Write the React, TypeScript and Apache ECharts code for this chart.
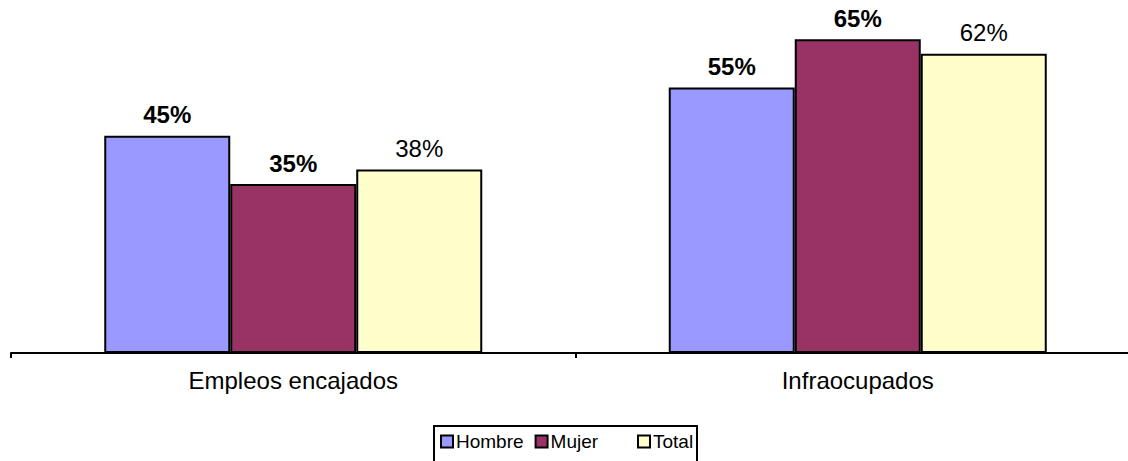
import React, { useEffect, useRef } from "react";
import * as echarts from "echarts";

const categories = ["Empleos encajados", "Infraocupados"];
const hombre = [45, 55];
const mujer = [35, 65];
const total = [38, 62];
const seriesNames = ["Hombre", "Mujer", "Total"];

const FONT = "'Liberation Sans', Arial, sans-serif";

export default function App() {
  const ref = useRef<HTMLDivElement>(null);
  useEffect(() => {
    document.body.style.margin = "0";
    document.body.style.overflow = "hidden";
    const chart = echarts.init(ref.current!, null, { renderer: "svg" });
    const barBase = {
      type: "bar" as const,
      barWidth: 126,
      barGap: "0%",
    };
    const lbl = (bold: boolean) => ({
      show: true,
      position: "top" as const,
      distance: 9,
      formatter: "{c}%",
      color: "#000",
      fontSize: 24,
      fontFamily: FONT,
      fontWeight: bold ? ("bold" as const) : ("normal" as const),
    });
    const legendCommon = {
      top: 432,
      padding: 0,
      icon: "rect",
      itemWidth: 12,
      itemHeight: 12,
      itemGap: 11,
      itemStyle: { borderColor: "#000", borderWidth: 2 },
      textStyle: { color: "#000", fontSize: 19, fontFamily: FONT, padding: [0, 0, 0, -2] },
    };
    chart.setOption({
      animation: false,
      backgroundColor: "#fff",
      grid: { left: 11, top: 15, right: 0, height: 338 },
      xAxis: {
        type: "category",
        data: categories,
        axisLine: { lineStyle: { color: "#000", width: 2 } },
        axisTick: { show: true, length: 5, lineStyle: { color: "#000", width: 2 } },
        axisLabel: { color: "#000", fontSize: 24, fontFamily: FONT, margin: 15 },
      },
      yAxis: { type: "value", min: 0, max: 70, show: false },
      legend: [
        {
          ...legendCommon,
          left: 440,
          data: seriesNames.slice(0, 2),
          textStyle: { ...legendCommon.textStyle, width: 74 },
        },
        {
          ...legendCommon,
          left: 637,
          data: seriesNames.slice(2),
        },
      ],
      graphic: [
        {
          type: "rect",
          shape: { x: 434, y: 426, width: 263, height: 40 },
          style: { fill: "none", stroke: "#000", lineWidth: 2 },
          silent: true,
        },
      ],
      series: [
        { ...barBase, name: seriesNames[0], data: hombre, itemStyle: { color: "#9999FF", borderColor: "#000", borderWidth: 2 }, label: lbl(true) },
        { ...barBase, name: seriesNames[1], data: mujer, itemStyle: { color: "#993366", borderColor: "#000", borderWidth: 2 }, label: lbl(true) },
        { ...barBase, name: seriesNames[2], data: total, itemStyle: { color: "#FFFFCC", borderColor: "#000", borderWidth: 2 }, label: lbl(false) },
      ],
    });
    return () => chart.dispose();
  }, []);
  return <div ref={ref} style={{ width: 1140, height: 461 }} />;
}
